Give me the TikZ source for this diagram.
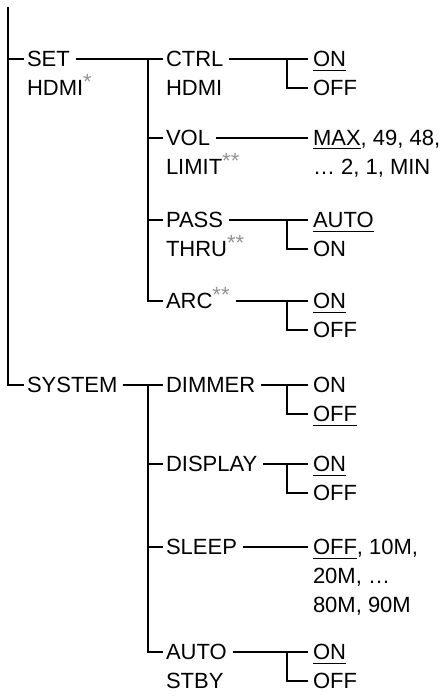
\documentclass[tikz,border=0pt]{standalone}
\usepackage{fontspec}
\setmainfont{Liberation Sans}
\usepackage{xcolor}
\newcommand\onestar{\textcolor{gray!85}{\raisebox{3pt}{*}}}
\newcommand\twostar{\textcolor{gray!85}{\raisebox{3pt}{**}}}
\begin{document}
\begin{tikzpicture}[x=0.5pt,y=-0.5pt,
  lbl/.style={anchor=west,inner sep=0pt,outer sep=0pt,text height=7.9pt,text depth=0pt,font=\fontsize{11}{13}\selectfont},
  conn/.style={line width=1pt,line cap=butt,line join=miter},
  gap/.style={xshift=3pt},
  tin/.style={xshift=-1.5pt},
  tout/.style={xshift=-2.5pt}]
\useasboundingbox (0,0) rectangle (442,696);
% level 1
\node[lbl] (set) at (27,59) {SET};
\node[lbl] (set2) at (27,88) {HDMI\onestar};
\node[lbl] (sys) at (27,385) {SYSTEM};
% level 2
\node[lbl] (ctrl) at (166,59) {CTRL};
\node[lbl] (ctrl2) at (166,88) {HDMI};
\node[lbl] (vol) at (166,138) {VOL};
\node[lbl] (vol2) at (166,167) {LIMIT\twostar};
\node[lbl] (pass) at (166,220) {PASS};
\node[lbl] (pass2) at (166,249) {THRU\twostar};
\node[lbl] (arc) at (166,301) {ARC\twostar};
\node[lbl] (dim) at (166,385) {DIMMER};
\node[lbl] (disp) at (166,464) {DISPLAY};
\node[lbl] (sleep) at (166,547) {SLEEP};
\node[lbl] (auto) at (166,652) {AUTO};
\node[lbl] (auto2) at (166,681) {STBY};
% options
\node[lbl] (o1a) at (313,59) {\underline{ON}};
\node[lbl] (o1b) at (313,88) {OFF};
\node[lbl] (o2a) at (313,138) {\underline{MAX}, 49, 48,};
\node[lbl] (o2b) at (313,167) {… 2, 1, MIN};
\node[lbl] (o3a) at (313,220) {\underline{AUTO}};
\node[lbl] (o3b) at (313,249) {ON};
\node[lbl] (o4a) at (313,301) {\underline{ON}};
\node[lbl] (o4b) at (313,330) {OFF};
\node[lbl] (o5a) at (313,385) {ON};
\node[lbl] (o5b) at (313,414) {\underline{OFF}};
\node[lbl] (o6a) at (313,464) {\underline{ON}};
\node[lbl] (o6b) at (313,493) {OFF};
\node[lbl] (o7a) at (313,547) {\underline{OFF}, 10M,};
\node[lbl] (o7b) at (313,576) {20M, …};
\node[lbl] (o7c) at (313,605) {80M, 90M};
\node[lbl] (o8a) at (313,652) {\underline{ON}};
\node[lbl] (o8b) at (313,681) {OFF};
% trunk
\coordinate (root) at (8,7);
\draw[conn] (root) |- ([tin]sys.west);
\draw[conn] (root |- set.west) -- ([tin]set.west);
% SET HDMI subtree
\coordinate (jset) at (148,59);
\draw[conn] ([gap]set.east) -- ([tin]ctrl.west);
\draw[conn] (jset) |- ([tin]arc.west);
\draw[conn] (jset |- vol.west) -- ([tin]vol.west);
\draw[conn] (jset |- pass.west) -- ([tin]pass.west);
% SYSTEM subtree
\coordinate (jsys) at (148,385);
\draw[conn] ([gap]sys.east) -- ([tin]dim.west);
\draw[conn] (jsys) |- ([tin]auto.west);
\draw[conn] (jsys |- disp.west) -- ([tin]disp.west);
\draw[conn] (jsys |- sleep.west) -- ([tin]sleep.west);
% options
\coordinate (j1) at (287,59);
\draw[conn] ([gap]ctrl.east) -- ([tout]o1a.west);
\draw[conn] (j1) |- ([tout]o1b.west);
\draw[conn] ([gap]vol.east) -- ([tout]o2a.west);
\coordinate (j3) at (287,220);
\draw[conn] ([gap]pass.east) -- ([tout]o3a.west);
\draw[conn] (j3) |- ([tout]o3b.west);
\coordinate (j4) at (287,301);
\draw[conn] ([gap]arc.east) -- ([tout]o4a.west);
\draw[conn] (j4) |- ([tout]o4b.west);
\coordinate (j5) at (287,385);
\draw[conn] ([gap]dim.east) -- ([tout]o5a.west);
\draw[conn] (j5) |- ([tout]o5b.west);
\coordinate (j6) at (287,464);
\draw[conn] ([gap]disp.east) -- ([tout]o6a.west);
\draw[conn] (j6) |- ([tout]o6b.west);
\draw[conn] ([gap]sleep.east) -- ([tout]o7a.west);
\coordinate (j8) at (287,652);
\draw[conn] ([gap]auto.east) -- ([tout]o8a.west);
\draw[conn] (j8) |- ([tout]o8b.west);
\end{tikzpicture}
\end{document}
